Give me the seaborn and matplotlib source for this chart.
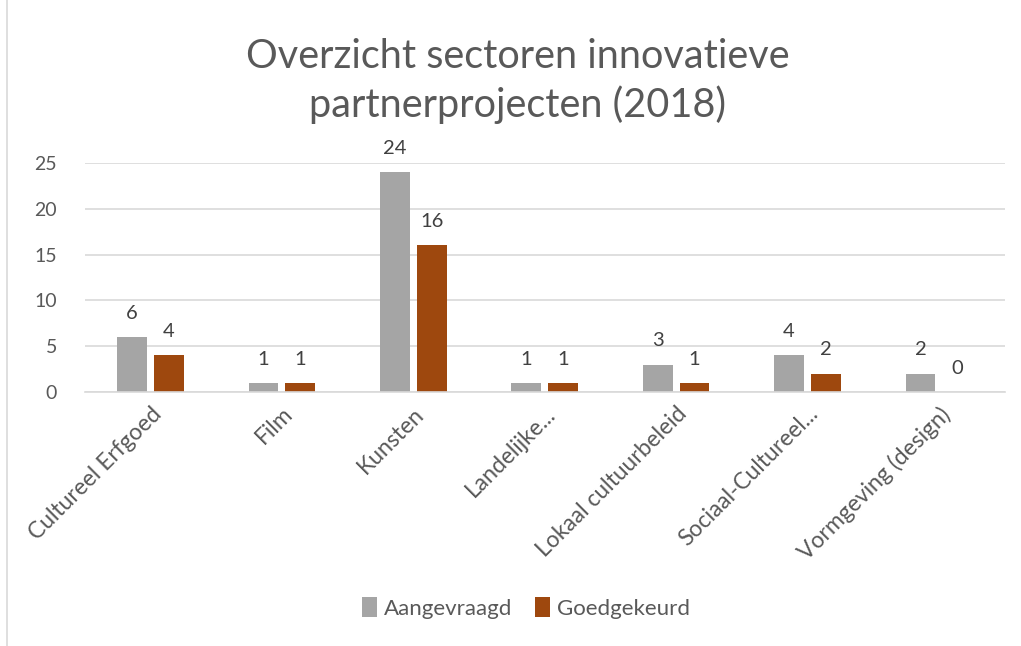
import matplotlib
matplotlib.use("Agg")
import matplotlib.pyplot as plt
import seaborn as sns
import pandas as pd
from matplotlib.lines import Line2D

categories = ["Cultureel Erfgoed", "Film", "Kunsten", "Landelijke...",
              "Lokaal cultuurbeleid", "Sociaal-Cultureel...", "Vormgeving (design)"]
aangevraagd = [6, 1, 24, 1, 3, 4, 2]
goedgekeurd = [4, 1, 16, 1, 1, 2, 0]
series = ["Aangevraagd", "Goedgekeurd"]
colors = ["#A5A5A5", "#9E480E"]

sns.set_theme(style="white")
plt.rcParams['font.family'] = ['Lato', 'DejaVu Sans']
text_color = "#595959"

df = pd.DataFrame({
    "Sector": categories * 2,
    "Aantal": aangevraagd + goedgekeurd,
    "Reeks": [series[0]] * len(categories) + [series[1]] * len(categories),
})

fig = plt.figure(figsize=(10.21, 6.46), dpi=100)
ax = fig.add_axes([0.083, 0.393, 0.901, 0.355])
sns.barplot(data=df, x="Sector", y="Aantal", hue="Reeks", palette=colors,
            width=0.56, gap=0.19, ax=ax, saturation=1, legend=True, linewidth=0)

ax.set_ylim(0, 25)
ax.set_yticks([0, 5, 10, 15, 20, 25])
ax.yaxis.grid(True, color="#D9D9D9", linewidth=1.2)
ax.set_axisbelow(True)
for s in ["top", "right", "left"]:
    ax.spines[s].set_visible(False)
ax.spines["bottom"].set_color("#D9D9D9")
ax.spines["bottom"].set_linewidth(1.2)
ax.set_xlabel("")
ax.set_ylabel("")
ax.tick_params(axis="both", length=0, colors=text_color)
ax.tick_params(axis="y", pad=20, labelsize=14)
ax.tick_params(axis="x", pad=8, labelsize=16.5)
plt.setp(ax.get_xticklabels(), rotation=45, ha="right", rotation_mode="anchor")

for cont in ax.containers:
    ax.bar_label(cont, fmt="%d", padding=11, fontsize=14.5, color="#404040")

fig.text(0.507, 1 - 81 / 646, "Overzicht sectoren innovatieve\npartnerprojecten (2018)",
         fontsize=28.5, color=text_color, ha="center", va="center", linespacing=1.35)

leg = ax.legend(loc="center", ncol=2, frameon=False, fontsize=16, handlelength=0.7,
                handleheight=1.0, handletextpad=0.3, columnspacing=1.0)
for t in leg.get_texts():
    t.set_color(text_color)
leg.set_bbox_to_anchor((0.515, 1 - 608 / 646), transform=fig.transFigure)

fig.add_artist(Line2D([0.007, 0.007], [0, 1], transform=fig.transFigure, color="#D9D9D9", linewidth=1.2))

fig.savefig("out.png", dpi=100)
